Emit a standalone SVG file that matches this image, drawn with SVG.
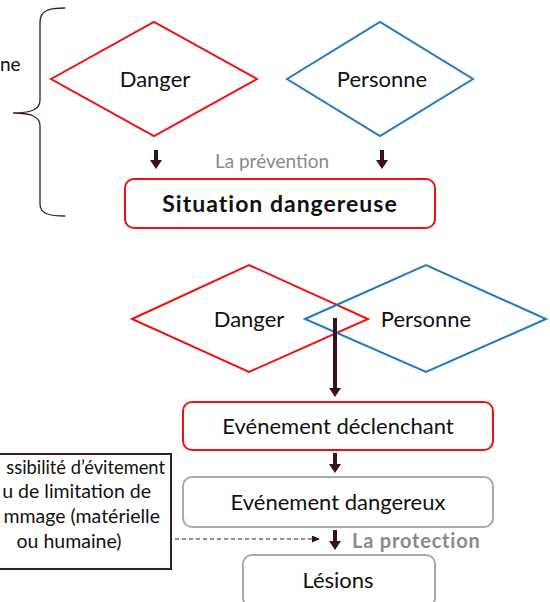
<svg xmlns="http://www.w3.org/2000/svg" width="550" height="602" viewBox="0 0 550 602">
<style>
text{font-family:Lato,"Liberation Sans",sans-serif;fill:#111}
.red{fill:#fff;stroke:#ee1111;stroke-width:2}
.blue{fill:none;stroke:#1f7ac4;stroke-width:2}
.gray{fill:#fff;stroke:#a6a9ad;stroke-width:2}
.lbl{font-size:22px;text-anchor:middle}
.arr{stroke:#3a0f24;stroke-width:4;fill:none}
.note{font-size:19.5px}
.grey{fill:#8a8a8a}
</style>
<defs>
<marker id="ah" markerUnits="userSpaceOnUse" markerWidth="9" markerHeight="12" refX="0" refY="6" orient="auto" viewBox="0 0 9 12">
<path d="M0,0 L9,6 L0,12 Z" fill="#3a0f24"/>
</marker>
<marker id="ahd" markerUnits="userSpaceOnUse" markerWidth="8" markerHeight="7" refX="8" refY="3.5" orient="auto" viewBox="0 0 8 7">
<path d="M0,0 L8,3.5 L0,7 Z" fill="#3a0f24"/>
</marker>
</defs>
<rect width="550" height="602" fill="#fff"/>
<g id="brace">
<path d="M65,8 C50,8 40,10 40,22 L40,100 C40,110 30,113 13,113 C30,113 40,116 40,126 L40,204 C40,214 50,216 65,216" fill="none" stroke="#3c1a2e" stroke-width="1.3"/>
<text x="0" y="71" font-size="19">ne</text>
</g>
<g id="danger1">
<polygon class="red" points="51,79 154,22 257,79 154,136"/>
<text class="lbl" x="155" y="87">Danger</text>
</g>
<g id="personne1">
<polygon class="blue" points="287,79 380,22 473,79 380,136"/>
<text class="lbl" x="382" y="87">Personne</text>
</g>
<g id="prevention">
<text class="grey" x="272" y="168" font-size="19" text-anchor="middle">La prévention</text>
</g>
<g id="situation">
<rect class="red" x="125" y="179" width="310" height="49" rx="9"/>
<text x="280" y="212" font-size="23" font-weight="bold" letter-spacing="1" text-anchor="middle">Situation dangereuse</text>
</g>
<g id="danger2">
<polygon class="red" points="132,319 249,265 368,319 249,372" style="fill:none"/>
<text class="lbl" x="249" y="327">Danger</text>
</g>
<g id="personne2">
<polygon class="blue" points="305,319 426,265 546,319 426,372"/>
<text class="lbl" x="426" y="327">Personne</text>
</g>
<g id="declenchant">
<rect class="red" x="183" y="402" width="310" height="48" rx="9"/>
<text class="lbl" x="338" y="434">Evénement déclenchant</text>
</g>
<g id="dangereux">
<rect class="gray" x="183" y="477" width="310" height="50" rx="9"/>
<text class="lbl" x="338" y="510">Evénement dangereux</text>
</g>
<g id="protection">
<text class="grey" x="352" y="548" font-size="20" font-weight="bold" letter-spacing="0.8">La protection</text>
</g>
<g id="lesions">
<rect class="gray" x="243" y="555" width="192" height="52" rx="9"/>
<text class="lbl" x="338" y="588">Lésions</text>
</g>
<g id="possibilite">
<rect x="-60" y="454" width="231" height="115" fill="#fff" stroke="#3c1a2e" stroke-width="2"/>
<text class="note" x="165" y="474" text-anchor="end" style="font-size:18.3px">ssibilité d’évitement</text>
<text class="note" x="151" y="498" text-anchor="end">u de limitation de</text>
<text class="note" x="160" y="523" text-anchor="end">mmage (matérielle</text>
<text class="note" x="69" y="548" text-anchor="middle">ou humaine)</text>
</g>
<g id="connectors">
<line class="arr" x1="156" y1="150" x2="156" y2="160" marker-end="url(#ah)"/>
<line class="arr" x1="382" y1="150" x2="382" y2="160" marker-end="url(#ah)"/>
<line class="arr" x1="335" y1="318" x2="335" y2="388" stroke-width="5" marker-end="url(#ah)"/>
<line class="arr" x1="335" y1="453" x2="335" y2="464" marker-end="url(#ah)"/>
<line class="arr" x1="335" y1="530" x2="335" y2="541" marker-end="url(#ah)"/>
<line x1="175" y1="539" x2="320" y2="539" stroke="#3a0f24" stroke-width="1.2" stroke-dasharray="4,3" marker-end="url(#ahd)"/>
</g>
</svg>
